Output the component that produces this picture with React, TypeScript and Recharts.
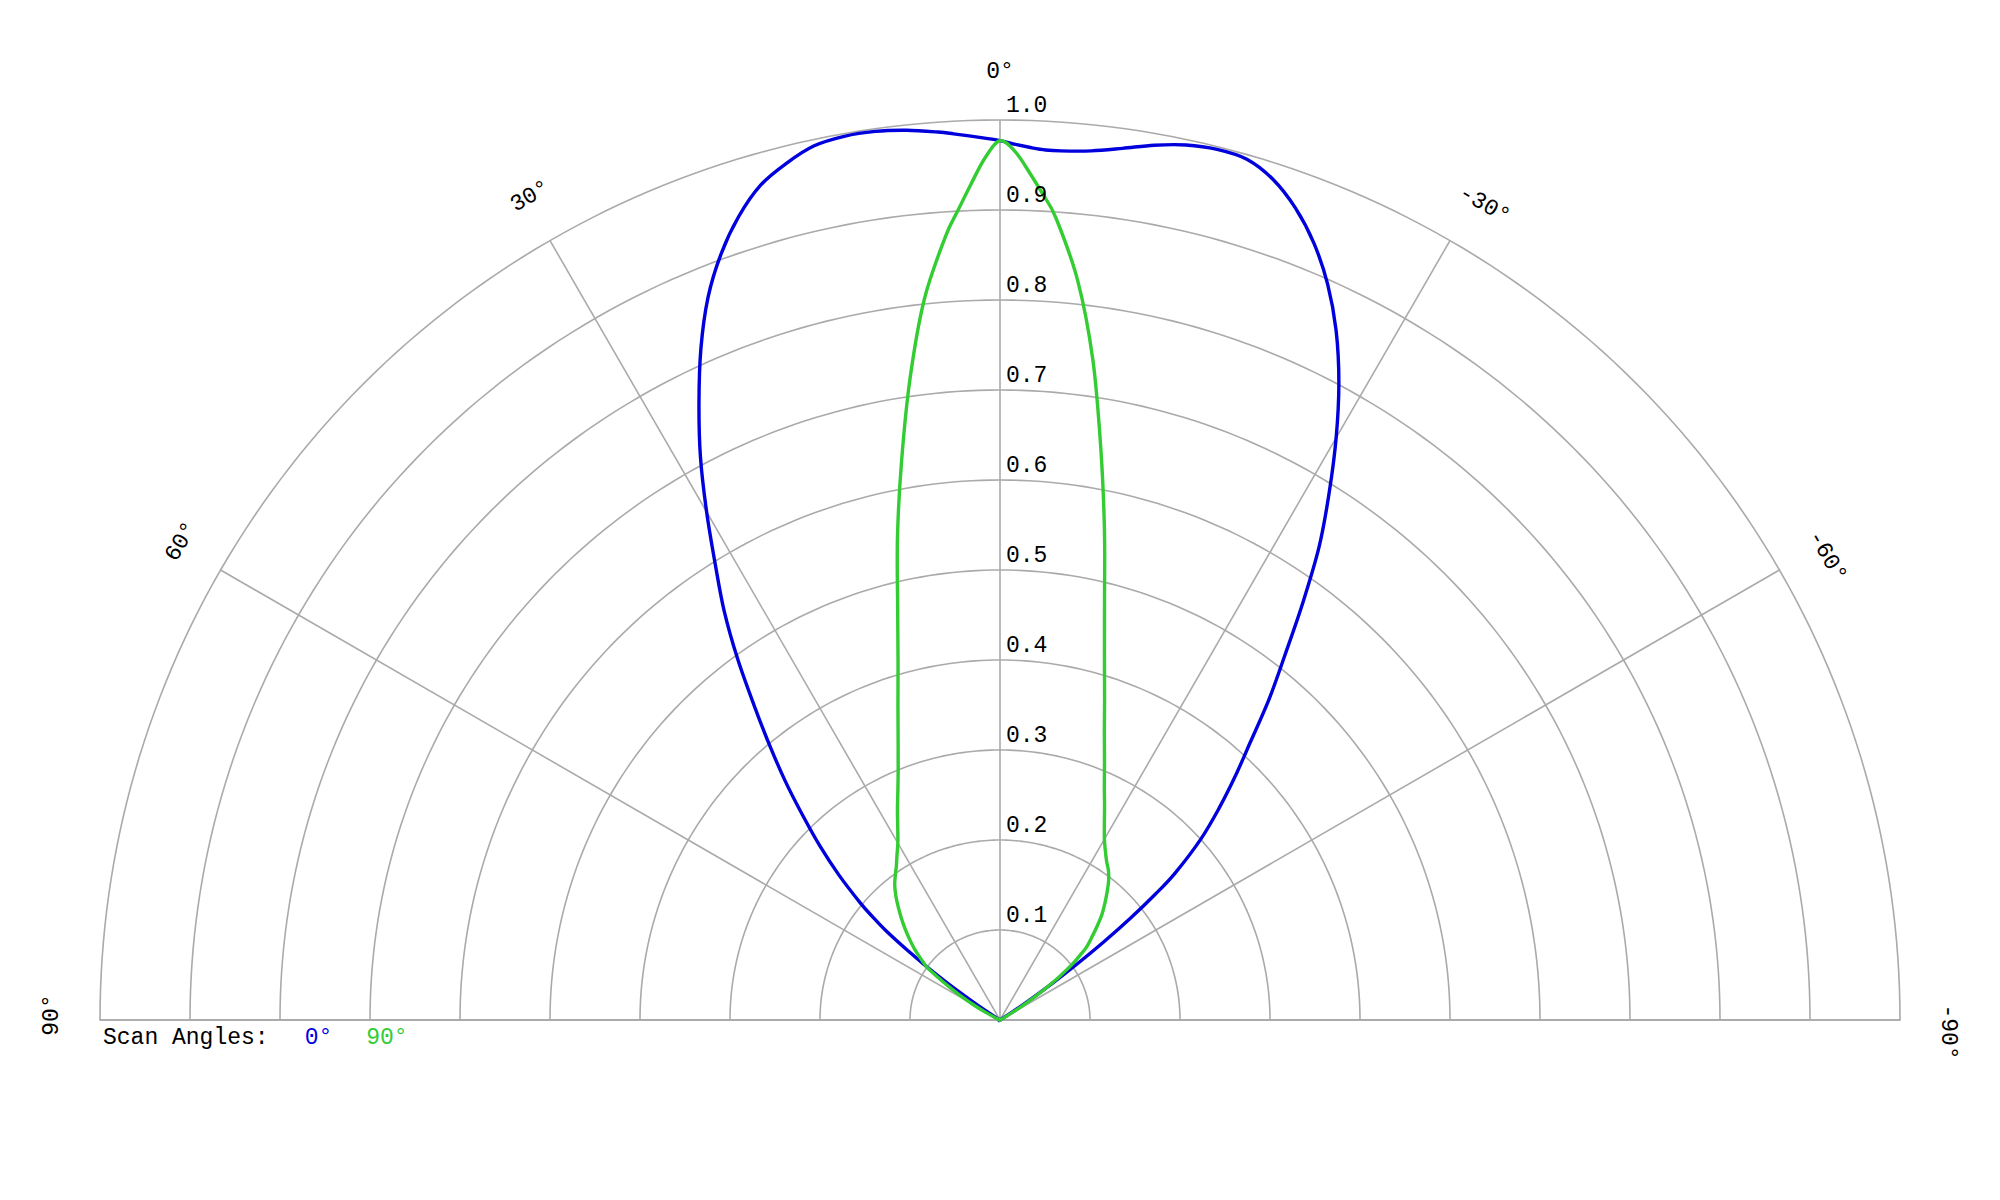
import { Legend, PolarAngleAxis, PolarGrid, PolarRadiusAxis, Radar, RadarChart } from "recharts";

// measurement angles in degrees (0 = on-axis, + to the left, - to the right)
const angles = [
  -90, -75, -66, -64, -62, -60, -58, -57, -56, -55, -54, -53, -52, -51, -50,
  -48, -46, -44, -42, -40, -38, -36, -34, -32, -30, -28, -26, -24, -22, -20,
  -18, -16, -14, -12, -10, -8, -6, -4, -3, -2, -1, 0,
  1, 2, 3, 4, 6, 8, 10, 12, 14, 16, 18, 20, 22, 24, 26, 28, 30,
  32, 34, 36, 38, 40, 42, 44, 46, 48, 50, 51, 52, 53, 54, 55, 56, 57, 58,
  60, 62, 64, 66, 75, 90,
];

// normalized intensity, scan angle 0°
const scan0 = [
  0, 0, 0, 0, 0, 0, 0, 0.015, 0.04, 0.07, 0.105, 0.145, 0.185, 0.222, 0.254,
  0.3, 0.338, 0.376, 0.416, 0.465, 0.514, 0.572, 0.634, 0.69, 0.747, 0.802, 0.852, 0.895, 0.931, 0.96,
  0.982, 0.995, 0.997, 0.994, 0.987, 0.978, 0.971, 0.968, 0.968, 0.97, 0.973, 0.977,
  0.98, 0.983, 0.986, 0.989, 0.994, 0.997, 0.997, 0.993, 0.981, 0.965, 0.939, 0.906, 0.866, 0.817, 0.763, 0.709, 0.652,
  0.597, 0.548, 0.496, 0.444, 0.398, 0.356, 0.315, 0.278, 0.241, 0.203, 0.182, 0.16, 0.13, 0.1, 0.07, 0.04, 0.02, 0.005,
  0, 0, 0, 0, 0, 0,
];

// normalized intensity, scan angle 90°
const scan90 = [
  0, 0, 0, 0, 0, 0.008, 0.025, 0.037, 0.05, 0.065, 0.08, 0.093, 0.105, 0.115, 0.125,
  0.137, 0.15, 0.163, 0.174, 0.185, 0.196, 0.205, 0.212, 0.221, 0.232, 0.247, 0.265, 0.285, 0.31, 0.339,
  0.376, 0.421, 0.48, 0.558, 0.645, 0.741, 0.826, 0.893, 0.918, 0.942, 0.965, 0.977,
  0.958, 0.929, 0.9, 0.872, 0.805, 0.719, 0.63, 0.548, 0.47, 0.411, 0.367, 0.331, 0.302, 0.279, 0.26, 0.242, 0.227,
  0.216, 0.206, 0.198, 0.19, 0.18, 0.169, 0.158, 0.147, 0.136, 0.125, 0.119, 0.113, 0.107, 0.101, 0.09, 0.078, 0.066, 0.055,
  0.035, 0.018, 0.005, 0, 0, 0,
];

const angleTicks = [-90, -60, -30, 0, 30, 60, 90];
const radiusTicks = [0, 0.1, 0.2, 0.3, 0.4, 0.5, 0.6, 0.7, 0.8, 0.9, 1.0];

const data = angles.map((angle, i) => ({ angle, s0: scan0[i], s90: scan90[i] }));

const FONT = "'Courier New', 'Liberation Mono', monospace";
const GRID = "#aaaaaa";
const BLUE = "#0000dd";
const GREEN = "#33cc33";
const arcAngles = Array.from({ length: 181 }, (_, i) => i);

// catmull-rom through the points recharts computed, so the lobes read as curves
function smoothPath(points: { x: number; y: number }[]) {
  const pts = (points || []).filter((p) => Number.isFinite(p.x) && Number.isFinite(p.y));
  if (!pts.length) return "";
  let d = `M${pts[0].x},${pts[0].y}`;
  for (let i = 0; i < pts.length - 1; i++) {
    const p0 = pts[Math.max(i - 1, 0)];
    const p1 = pts[i];
    const p2 = pts[i + 1];
    const p3 = pts[Math.min(i + 2, pts.length - 1)];
    const c1x = p1.x + (p2.x - p0.x) / 6;
    const c1y = p1.y + (p2.y - p0.y) / 6;
    const c2x = p2.x - (p3.x - p1.x) / 6;
    const c2y = p2.y - (p3.y - p1.y) / 6;
    d += ` C${c1x},${c1y} ${c2x},${c2y} ${p2.x},${p2.y}`;
  }
  return d;
}

const lobe = (color: string) => (props: any) => (
  <path d={smoothPath(props.points)} fill="none" stroke={color} strokeWidth={3.4} strokeLinejoin="round" />
);

function AngleTick(props: any) {
  const { x, y, payload } = props;
  const v = payload.value;
  // the source centres the digits, so signed labels sit a bit further along
  const dx = v === 0 ? 0 : v > 0 ? 5 : 12;
  return (
    <text
      x={x}
      y={y}
      dx={dx}
      textAnchor="middle"
      dominantBaseline="central"
      transform={`rotate(${-v}, ${x}, ${y})`}
      fontFamily={FONT}
      fontSize={23}
      fill="#000"
    >
      {`${v}°`}
    </text>
  );
}

function RadiusTick(props: any) {
  const { x, y, payload } = props;
  if (!payload.value) return <g />;
  return (
    <text x={x + 6} y={y - 8} textAnchor="start" fontFamily={FONT} fontSize={23} fill="#000">
      {Number(payload.value).toFixed(1)}
    </text>
  );
}

function ScanLegend(props: any) {
  const items = props.payload || [];
  return (
    <div style={{ fontFamily: FONT, fontSize: 23, lineHeight: "26px", color: "#000", whiteSpace: "pre" }}>
      <span>Scan Angles:</span>
      {items.map((p: any, i: number) => (
        <span key={p.value} style={{ color: p.color, marginLeft: i === 0 ? 36 : 34 }}>
          {p.value}
        </span>
      ))}
    </div>
  );
}

export default function App() {
  return (
    <div style={{ position: "absolute", left: 0, top: 0, width: 2000, height: 1200, background: "#fff" }}>
      <RadarChart
        width={2000}
        height={1200}
        data={data}
        cx={1000}
        cy={1020}
        outerRadius={900}
        startAngle={0}
        endAngle={180}
        margin={{ top: 0, right: 0, bottom: 0, left: 0 }}
      >
        <PolarGrid gridType="polygon" radialLines={false} polarAngles={arcAngles} stroke={GRID} strokeWidth={1.6} />
        <PolarGrid gridType="polygon" polarRadius={[]} stroke={GRID} strokeWidth={1.6} />
        <PolarAngleAxis
          dataKey="angle"
          type="number"
          domain={[-90, 90]}
          ticks={angleTicks}
          tickCount={7}
          axisLine={false}
          tickLine={false}
          tickSize={48}
          tick={AngleTick}
        />
        <PolarRadiusAxis
          angle={90}
          type="number"
          domain={[0, 1]}
          ticks={radiusTicks}
          tickCount={11}
          allowDecimals
          axisLine={false}
          tickLine={false}
          tick={RadiusTick}
        />
        <Radar
          name="0°"
          dataKey="s0"
          stroke={BLUE}
          fill="none"
          dot={false}
          shape={lobe(BLUE)}
          isAnimationActive={false}
        />
        <Radar
          name="90°"
          dataKey="s90"
          stroke={GREEN}
          fill="none"
          dot={false}
          shape={lobe(GREEN)}
          isAnimationActive={false}
        />
        <Legend content={ScanLegend} wrapperStyle={{ position: "absolute", left: 103, top: 1025, width: "auto" }} />
      </RadarChart>
    </div>
  );
}
